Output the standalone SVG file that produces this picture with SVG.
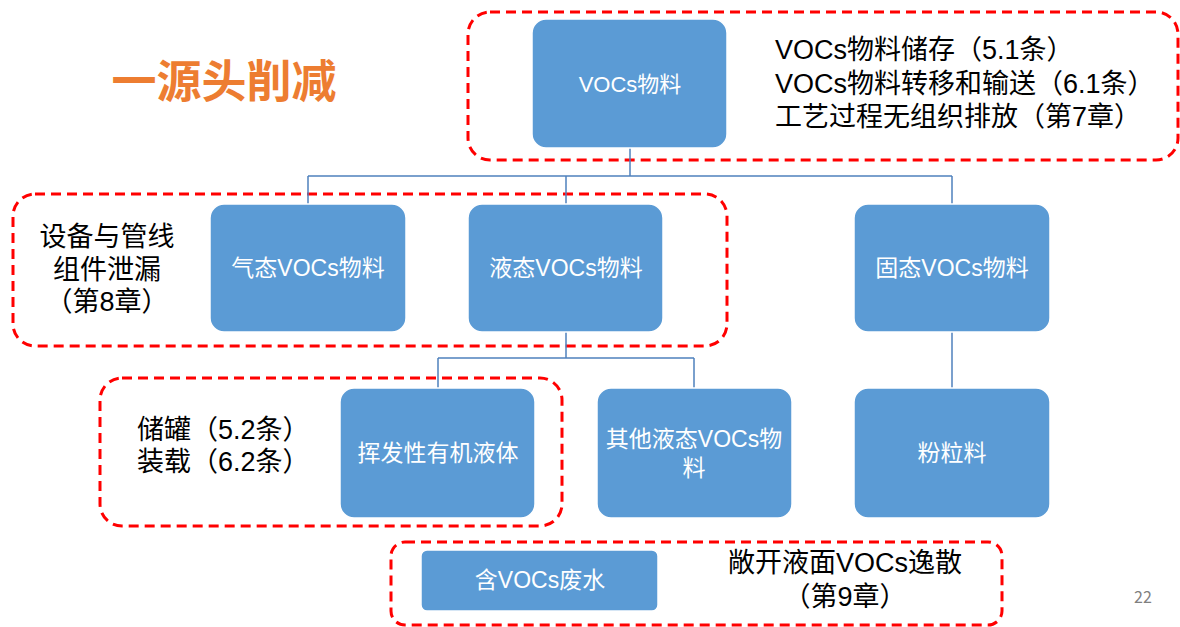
<svg xmlns="http://www.w3.org/2000/svg" width="1180" height="627" viewBox="0 0 1180 627">
<style>
.box{fill:#5B9BD5;stroke:#FFFFFF;stroke-width:1.5}
.bt{font-family:"Liberation Sans","Noto Sans CJK SC",sans-serif;font-size:23px;fill:#FFFFFF;text-anchor:middle}
.zone{fill:none;stroke:#FF0000;stroke-width:3;stroke-dasharray:10 6}
.lbl{font-family:"Liberation Sans","Noto Sans CJK SC",sans-serif;font-size:27px;fill:#000000}
.conn{fill:none;stroke:#4F81BD;stroke-width:1.5}
</style>
<rect width="1180" height="627" fill="#FFFFFF"/>
<text x="224" y="78" font-family="'Noto Sans CJK SC',sans-serif" font-size="45" font-weight="bold" fill="#ED7D31" text-anchor="middle" dominant-baseline="central">一源头削减</text>
<g id="zones">
<rect class="zone" x="468" y="12" width="710" height="148" rx="22"/>
<rect class="zone" x="13" y="194" width="714" height="152" rx="22"/>
<rect class="zone" x="100" y="378" width="462" height="148" rx="22"/>
<rect class="zone" x="391" y="542" width="611" height="83" rx="14"/>
</g>
<g id="connectors">
<path class="conn" d="M630 148V176M308 176H952M308 176V204M566 176V204M952 176V204"/>
<path class="conn" d="M566 332V358M438 358H694M438 358V388M694 358V388"/>
<path class="conn" d="M952 332V388"/>
</g>
<g id="n_voc"><rect class="box" x="532" y="19" width="195" height="129" rx="14"/><text class="bt" x="630" y="92" style="font-size:22px">VOCs物料</text></g>
<g id="n_gas"><rect class="box" x="210" y="204" width="196" height="128" rx="14"/><text class="bt" x="308" y="276">气态VOCs物料</text></g>
<g id="n_liq"><rect class="box" x="468" y="204" width="195" height="128" rx="14"/><text class="bt" x="566" y="276">液态VOCs物料</text></g>
<g id="n_sol"><rect class="box" x="854" y="204" width="196" height="128" rx="14"/><text class="bt" x="952" y="276">固态VOCs物料</text></g>
<g id="n_vol"><rect class="box" x="340" y="388" width="195" height="130" rx="14"/><text class="bt" x="438" y="461">挥发性有机液体</text></g>
<g id="n_oth"><rect class="box" x="597" y="388" width="195" height="130" rx="14"/><text class="bt" x="694" y="447">其他液态VOCs物<tspan x="694" y="476">料</tspan></text></g>
<g id="n_pow"><rect class="box" x="854" y="388" width="196" height="130" rx="14"/><text class="bt" x="952" y="461">粉粒料</text></g>
<g id="n_ww"><rect class="box" x="421" y="550" width="237" height="61" rx="6"/><text class="bt" x="540" y="588">含VOCs废水</text></g>
<g id="labels">
<text class="lbl" x="775" y="59">VOCs物料储存（5.1条）<tspan x="775" y="93">VOCs物料转移和输送（6.1条）</tspan><tspan x="775" y="126">工艺过程无组织排放（第7章）</tspan></text>
<text class="lbl" x="107" y="246" text-anchor="middle">设备与管线<tspan x="107" y="279">组件泄漏</tspan><tspan x="107" y="311">（第8章）</tspan></text>
<text class="lbl" x="137" y="439">储罐（5.2条）<tspan x="137" y="471">装载（6.2条）</tspan></text>
<text class="lbl" x="845" y="572" text-anchor="middle">敞开液面VOCs逸散<tspan x="845" y="606">（第9章）</tspan></text>
<text x="1143" y="603" font-family="'Noto Sans CJK SC',sans-serif" font-size="16" fill="#808080" text-anchor="middle">22</text>
</g>
</svg>
